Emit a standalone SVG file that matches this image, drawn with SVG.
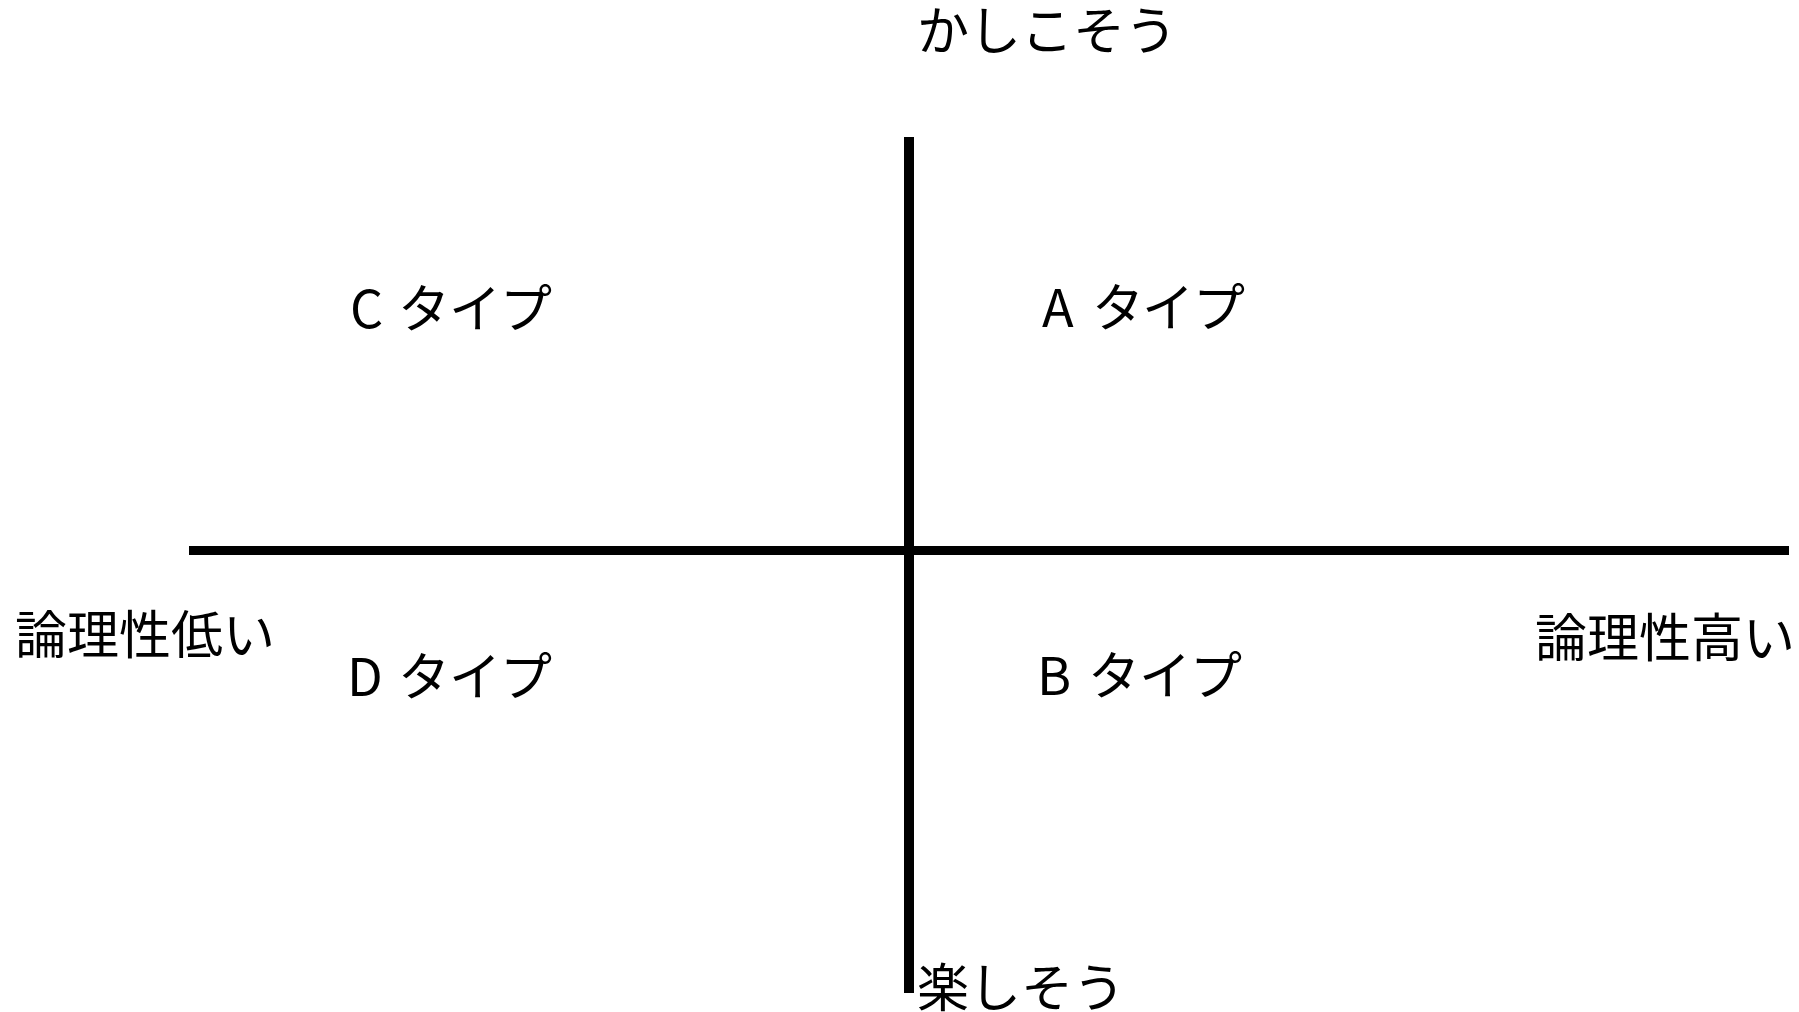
<svg xmlns="http://www.w3.org/2000/svg" width="1799" height="1012" viewBox="0 0 1799 1012">
<style>
text{font-family:"Noto Sans CJK JP","Noto Sans",sans-serif;font-size:52px;fill:#000;}
.axis{stroke:#000;fill:none;}
</style>
<rect x="0" y="0" width="1799" height="1012" fill="#fff"/>
<g id="connectors">
<line class="axis" x1="909" y1="137" x2="909" y2="993" stroke-width="10"/>
<line class="axis" x1="189" y1="550.5" x2="1789" y2="550.5" stroke-width="9"/>
</g>
<g id="top-label"><text x="917" y="50">かしこそう</text></g>
<g id="bottom-label"><text x="917" y="1007">楽しそう</text></g>
<g id="left-label"><text x="15" y="654">論理性低い</text></g>
<g id="right-label"><text x="1535" y="657">論理性高い</text></g>
<g id="type-c"><text x="350 380 398 449 500" y="328">C タイプ</text></g>
<g id="type-a"><text x="1042 1072 1092 1142 1193" y="327">A タイプ</text></g>
<g id="type-d"><text x="347 380 398 449 500" y="696">D タイプ</text></g>
<g id="type-b"><text x="1037 1070 1088 1139 1190" y="695">B タイプ</text></g>
</svg>
